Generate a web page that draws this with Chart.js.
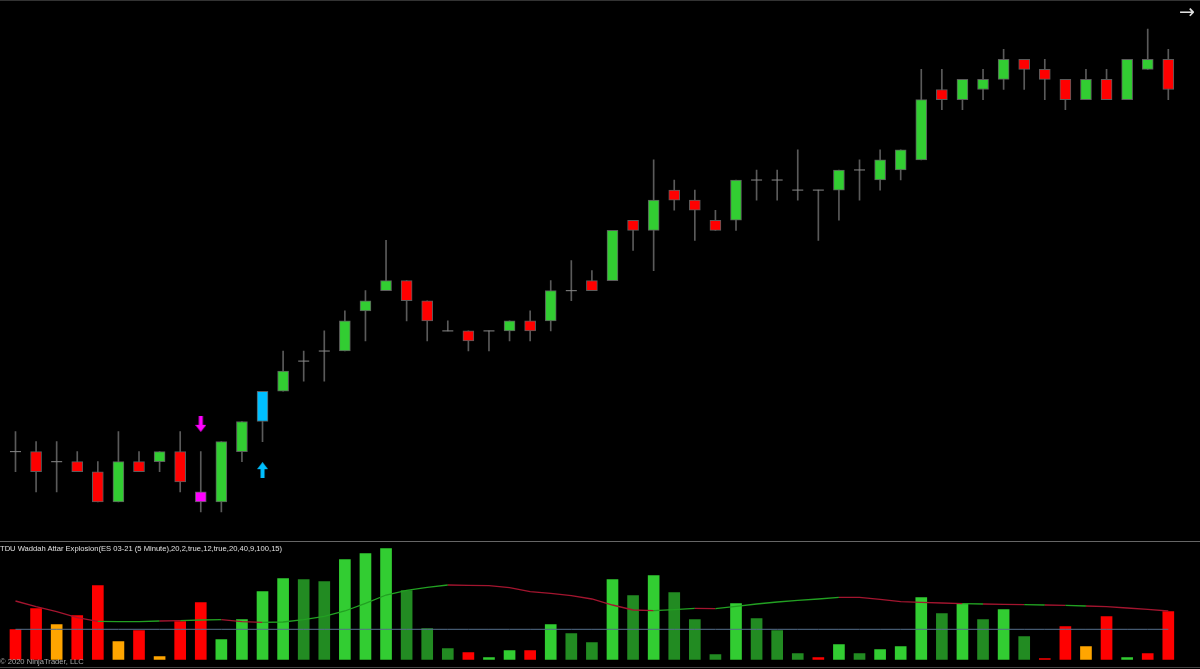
<!DOCTYPE html>
<html><head><meta charset="utf-8">
<script src="https://cdn.jsdelivr.net/npm/chart.js@4.4.1/dist/chart.umd.min.js"></script>
<style>
html,body{margin:0;padding:0;background:#000;width:1200px;height:669px;overflow:hidden;}
#wrap{position:relative;width:1200px;height:669px;background:#000;}
canvas{position:absolute;left:0;}
#main{top:0;}
#ind{top:542px;}
.hl{position:absolute;left:0;width:1200px;height:1px;}
#title{position:absolute;left:0;top:544px;font:7.6px "Liberation Sans",Arial,sans-serif;color:#e0e0e0;white-space:nowrap;}
#copy{position:absolute;left:0;top:657px;font:7.6px "Liberation Sans",Arial,sans-serif;color:#a8a8a8;white-space:nowrap;}
#arrowTR{position:absolute;left:1179px;top:0px;color:#e0e0e0;font:19px "DejaVu Sans",sans-serif;}
</style></head>
<body><div id="wrap">
<div class="hl" style="top:0;background:#333;"></div>
<canvas id="main" width="1200" height="540"></canvas>
<div class="hl" style="top:541px;background:#666;"></div>
<canvas id="ind" width="1200" height="127"></canvas>
<div class="hl" style="top:667px;background:#444;"></div>
<div id="title">TDU Waddah Attar Explosion(ES 03-21 (5 Minute),20,2,true,12,true,20,40,9,100,15)</div>
<div id="copy">© 2020 NinjaTrader, LLC</div>
<div id="arrowTR">→</div>
</div>
<script>
// ---- price data (ES 03-21, 5 minute) ----
const opens  = [3791.50,3791.50,3791.25,3791.25,3791.00,3790.25,3791.25,3791.25,3791.50,3790.50,3790.25,3791.50,3792.25,3793.00,3793.75,3794.00,3794.00,3795.00,3795.50,3795.75,3795.25,3794.50,3794.50,3794.50,3794.50,3794.75,3794.75,3795.50,3795.75,3795.75,3797.25,3797.00,3798.00,3797.75,3797.25,3797.25,3798.25,3798.25,3798.00,3798.00,3798.00,3798.50,3798.25,3798.50,3798.75,3800.50,3800.25,3800.50,3800.75,3801.25,3801.00,3800.75,3800.25,3800.75,3800.25,3801.00,3801.25];
const highs  = [3792.00,3791.75,3791.75,3791.50,3791.25,3792.00,3791.50,3791.50,3792.00,3791.50,3791.75,3792.25,3793.00,3794.00,3794.00,3794.50,3795.00,3795.50,3796.75,3795.75,3795.25,3794.75,3794.50,3794.50,3794.75,3795.00,3795.75,3796.25,3796.00,3797.00,3797.25,3798.75,3798.25,3798.00,3797.50,3798.25,3798.50,3798.50,3799.00,3798.00,3798.50,3798.75,3799.00,3799.00,3801.00,3801.00,3800.75,3801.00,3801.50,3801.25,3801.25,3800.75,3801.00,3801.00,3801.25,3802.00,3801.50];
const lows   = [3791.00,3790.50,3790.50,3791.00,3790.25,3790.25,3791.00,3791.00,3790.50,3790.00,3790.00,3791.25,3791.75,3793.00,3793.25,3793.25,3794.00,3794.25,3795.50,3794.75,3794.25,3794.50,3794.00,3794.00,3794.25,3794.25,3794.50,3795.25,3795.50,3795.75,3796.50,3796.00,3797.50,3796.75,3797.00,3797.00,3797.75,3797.75,3797.75,3796.75,3797.25,3797.75,3798.00,3798.25,3798.75,3800.00,3800.00,3800.25,3800.50,3800.50,3800.25,3800.00,3800.25,3800.25,3800.25,3801.00,3800.25];
const closes = [3791.50,3791.00,3791.25,3791.00,3790.25,3791.25,3791.00,3791.50,3790.75,3790.25,3791.75,3792.25,3793.00,3793.50,3793.75,3794.00,3794.75,3795.25,3795.75,3795.25,3794.75,3794.50,3794.25,3794.50,3794.75,3794.50,3795.50,3795.50,3795.50,3797.00,3797.00,3797.75,3797.75,3797.50,3797.00,3798.25,3798.25,3798.25,3798.00,3798.00,3798.50,3798.50,3798.75,3799.00,3800.25,3800.25,3800.75,3800.75,3801.25,3801.00,3800.75,3800.25,3800.75,3800.25,3801.25,3801.25,3800.50];
// signal bars (0-based index) and signal arrows (price level of the arrow)
const signalBarDown = 9, signalBarUp = 12;
const signalDownArrow = [null,null,null,null,null,null,null,null,null,3792.19,null,null,null,null,null,null,null,null,null,null,null,null,null,null,null,null,null,null,null,null,null,null,null,null,null,null,null,null,null,null,null,null,null,null,null,null,null,null,null,null,null,null,null,null,null,null,null];
const signalUpArrow   = [null,null,null,null,null,null,null,null,null,null,null,null,3791.04,null,null,null,null,null,null,null,null,null,null,null,null,null,null,null,null,null,null,null,null,null,null,null,null,null,null,null,null,null,null,null,null,null,null,null,null,null,null,null,null,null,null,null,null];

// ---- Waddah Attar Explosion indicator ----
const waeTrend = [30,51,35,44,74,18,29,3,38,57,20,40,68,81,80,78,100,106,111,69,31,11,7,2,9,9,35,26,17,80,64,84,67,40,5,56,41,29,6,2,15,6,10,13,62,46,56,40,50,23,1,33,13,43,2,6,48];
const waeState = ['dn','dn','dnW','dn','dn','dnW','dn','dnW','dn','dn','up','up','up','up','upW','upW','up','up','up','upW','upW','upW','dn','up','up','dn','up','upW','upW','up','upW','up','upW','upW','upW','up','upW','upW','upW','dn','up','upW','up','up','up','upW','up','upW','up','upW','dn','dn','dnW','dn','up','dn','dn'];
const explosion = [58.7,53,48,42,38.4,38,38,38.7,39,39.7,40,38,37.4,37.7,40,43.4,48.7,56.4,64.7,69.4,72.4,74.7,74.4,74,72,68,66.4,64,60.7,54.7,49.7,49,50,51.4,51,53.4,55.7,57.7,59.4,60.7,62.4,62.4,60.4,58,57.4,56.7,56,55.7,55.4,55,54.7,54.4,53.7,53,51.7,50.4,48.7];
const explosionUp = [0,0,0,0,0,1,1,1,0,1,1,0,0,1,1,1,1,1,1,1,1,1,0,0,0,0,0,0,0,0,0,0,1,1,0,1,1,1,1,1,1,0,0,0,0,0,0,1,0,0,1,0,1,0,0,0,0];
const deadZoneLevel = 30.4;

const categories = opens.map((_, i) => i + 1);

// ---- styles ----
const C_UP = '#32CD32', C_DN = '#FF0000';
const stateColor = {up:'#32CD32', upW:'#228B22', dn:'#FF0000', dnW:'#FFA500'};

function arrowImg(color, down){
  const c = document.createElement('canvas'); c.width = 11; c.height = 16;
  const g = c.getContext('2d'); g.fillStyle = color;
  g.save();
  if(!down){ g.translate(0,16); g.scale(1,-1); }
  g.fillRect(3.5,0,4,10);
  g.beginPath(); g.moveTo(0,9); g.lineTo(11,9); g.lineTo(5.5,16); g.closePath(); g.fill();
  g.restore();
  return c;
}

const bodyColors = opens.map((o,i)=>{
  if(i===signalBarDown) return '#FF00FF';
  if(i===signalBarUp) return '#00BFFF';
  return closes[i] >= o ? C_UP : C_DN;
});

Chart.defaults.animation = false;

new Chart(document.getElementById('main'), {
  type:'bar',
  data:{ labels: categories, datasets:[
    { type:'line', data: opens.map((o,i)=> o===closes[i] && i!==signalBarDown && i!==signalBarUp ? o : null),
      showLine:false, pointStyle:'line', pointRadius:5.5, borderColor:'#8a8a8a', borderWidth:1, order:0 },
    { type:'line', data: signalDownArrow, showLine:false, pointStyle: arrowImg('#FF00FF', true), order:0 },
    { type:'line', data: signalUpArrow, showLine:false, pointStyle: arrowImg('#00BFFF', false), order:0 },
    { data: opens.map((o,i)=> o===closes[i] ? null : [Math.min(o,closes[i]), Math.max(o,closes[i])]),
      backgroundColor: bodyColors, borderColor:'#5c5c5c', borderWidth:1, borderSkipped:false,
      barThickness:11, grouped:false, order:1 },
    { data: highs.map((h,i)=>[lows[i], h]), backgroundColor:'#5a5a5a', barThickness:1, grouped:false, order:2 }
  ]},
  options:{
    responsive:false, animation:false,
    layout:{autoPadding:false, padding:{left:5.2,right:21.4,top:0,bottom:0}},
    plugins:{legend:{display:false}, tooltip:{enabled:false}},
    scales:{
      x:{display:false},
      y:{display:false, min:3789.304, max:3802.724}
    }
  }
});

new Chart(document.getElementById('ind'), {
  type:'bar',
  data:{ labels: categories, datasets:[
    { type:'line', data: explosion, borderWidth:1.3, pointRadius:0, tension:0, order:0,
      borderColor:'#22a022',
      segment:{ borderColor: ctx => explosionUp[ctx.p1DataIndex] ? '#22a022' : '#a3152f' } },
    { type:'line', data: categories.map(()=>deadZoneLevel), borderColor:'#56708c', borderWidth:1, pointRadius:0, order:1 },
    { data: waeTrend, backgroundColor: waeState.map(s=>stateColor[s]), barThickness:11, grouped:false, order:2 }
  ]},
  options:{
    responsive:false, animation:false,
    layout:{autoPadding:false, padding:{left:5.2,right:21.4,top:0,bottom:9.3}},
    plugins:{legend:{display:false}, tooltip:{enabled:false}},
    scales:{
      x:{display:false},
      y:{display:false, min:0, max:117.7}
    }
  }
});
</script>
</body></html>
